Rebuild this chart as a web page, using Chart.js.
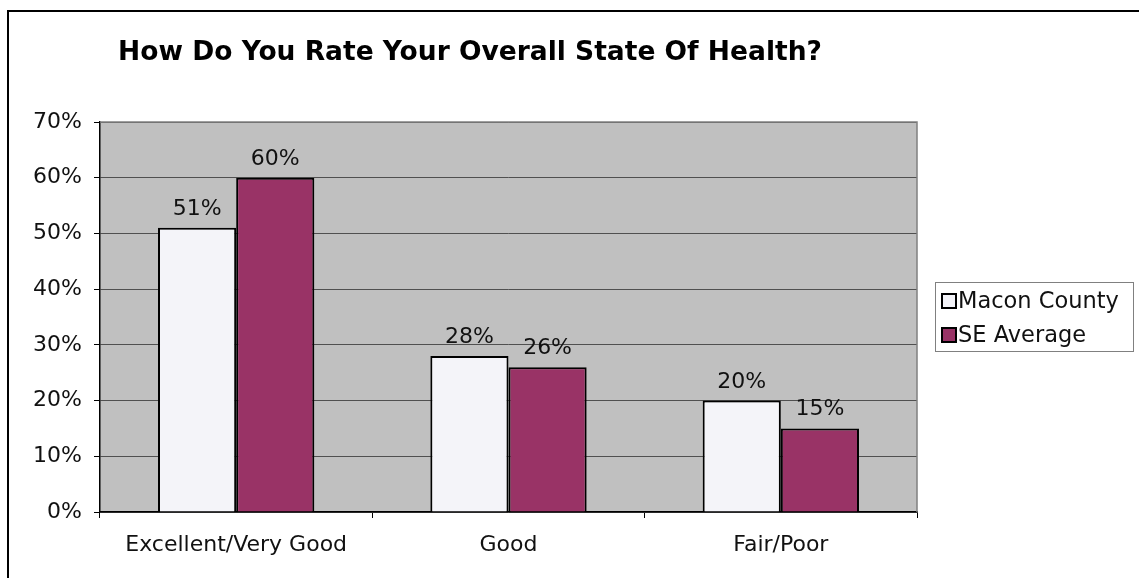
<!DOCTYPE html>
<html>
<head>
<meta charset="utf-8">
<script src="https://cdn.jsdelivr.net/npm/chart.js@4.4.1/dist/chart.umd.min.js"></script>
<style>
  html, body { margin: 0; padding: 0; background: #fff; }
  #wrap { width: 1139px; height: 578px; position: relative; }
</style>
</head>
<body>
<div id="wrap"><canvas id="healthChart" width="1139" height="578"></canvas></div>
<script>
const chartTitle = 'How Do You Rate Your Overall State Of Health?';
const categories = ['Excellent/Very Good', 'Good', 'Fair/Poor'];
const seriesNames = ['Macon County', 'SE Average'];
const maconValues = [51, 28, 20];
const seAverageValues = [60, 26, 15];
const seriesColors = ['#F4F4F9', '#993366'];

const FONT = '"DejaVu Sans", Verdana, sans-serif';

// grey plot background, outer frame and title
const framePlugin = {
    id: 'frame',
    beforeDraw(chart) {
        const ctx = chart.ctx;
        const a = chart.chartArea;
        ctx.save();
        ctx.fillStyle = '#fff';
        ctx.fillRect(0, 0, chart.width, chart.height);
        ctx.fillStyle = '#C0C0C0';
        ctx.fillRect(a.left, a.top, a.right - a.left, a.bottom - a.top);

        ctx.strokeStyle = '#000';
        ctx.lineWidth = 2;
        ctx.beginPath();
        ctx.moveTo(8, chart.height);
        ctx.lineTo(8, 11);
        ctx.lineTo(chart.width, 11);
        ctx.stroke();

        ctx.fillStyle = '#000';
        ctx.font = 'bold 26.5px ' + FONT;
        ctx.textAlign = 'center';
        ctx.textBaseline = 'middle';
        ctx.fillText(chartTitle, 470, 53);
        ctx.restore();
    },
    afterDatasetsDraw(chart) {
        const ctx = chart.ctx;
        const a = chart.chartArea;
        ctx.save();
        // grey border on top and right of plot
        ctx.strokeStyle = '#808080';
        ctx.lineWidth = 1.5;
        ctx.beginPath();
        ctx.moveTo(a.left, a.top);
        ctx.lineTo(a.right, a.top);
        ctx.lineTo(a.right, a.bottom);
        ctx.stroke();

        // value labels over each bar
        ctx.fillStyle = '#111';
        ctx.font = '22px ' + FONT;
        ctx.textAlign = 'center';
        ctx.textBaseline = 'alphabetic';
        chart.data.datasets.forEach((ds, i) => {
            chart.getDatasetMeta(i).data.forEach((bar, j) => {
                ctx.fillText(ds.data[j] + '%', bar.x, bar.y - 13);
            });
        });

        // legend box
        const lx = 935, ly = 282, lw = 198, lh = 69;
        ctx.fillStyle = '#fff';
        ctx.fillRect(lx, ly, lw, lh);
        ctx.strokeStyle = '#808080';
        ctx.lineWidth = 1;
        ctx.strokeRect(lx + 0.5, ly + 0.5, lw, lh);
        ctx.textAlign = 'left';
        ctx.textBaseline = 'middle';
        ctx.font = '22.5px ' + FONT;
        chart.data.datasets.forEach((ds, i) => {
            const cy = ly + 19 + i * 34;
            ctx.fillStyle = ds.backgroundColor;
            ctx.fillRect(lx + 7, cy - 7, 14, 14);
            ctx.strokeStyle = '#000';
            ctx.lineWidth = 2;
            ctx.strokeRect(lx + 7, cy - 7, 14, 14);
            ctx.fillStyle = '#111';
            ctx.fillText(ds.label, lx + 23, cy + 1);
        });
        ctx.restore();
    }
};

new Chart(document.getElementById('healthChart'), {
    type: 'bar',
    data: {
        labels: categories,
        datasets: [
            {
                label: seriesNames[0],
                data: maconValues,
                backgroundColor: seriesColors[0],
                borderColor: '#000',
                borderWidth: 2
            },
            {
                label: seriesNames[1],
                data: seAverageValues,
                backgroundColor: seriesColors[1],
                borderColor: '#000',
                borderWidth: 2
            }
        ]
    },
    options: {
        responsive: false,
        animation: false,
        layout: { padding: { left: 8, right: 222, top: 122, bottom: 0 } },
        datasets: {
            bar: { categoryPercentage: 0.574, barPercentage: 1.0 }
        },
        plugins: {
            legend: { display: false },
            title: { display: false },
            tooltip: { enabled: false }
        },
        scales: {
            x: {
                offset: true,
                afterFit(scale) { scale.height = 66; },
                grid: {
                    offset: true,
                    drawOnChartArea: false,
                    drawTicks: true,
                    tickLength: 6,
                    color: '#000'
                },
                border: { color: '#000', width: 1.5 },
                ticks: {
                    color: '#111',
                    padding: 14,
                    font: { family: FONT, size: 22 }
                }
            },
            y: {
                min: 0,
                max: 70,
                afterFit(scale) { scale.width = 92; },
                grid: {
                    color: '#505050',
                    lineWidth: 1,
                    tickLength: 6,
                    tickColor: '#000'
                },
                border: { color: '#000', width: 1.5 },
                ticks: {
                    stepSize: 10,
                    color: '#111',
                    padding: 12,
                    font: { family: FONT, size: 22 },
                    callback: v => v + '%'
                }
            }
        }
    },
    plugins: [framePlugin]
});
</script>
</body>
</html>
